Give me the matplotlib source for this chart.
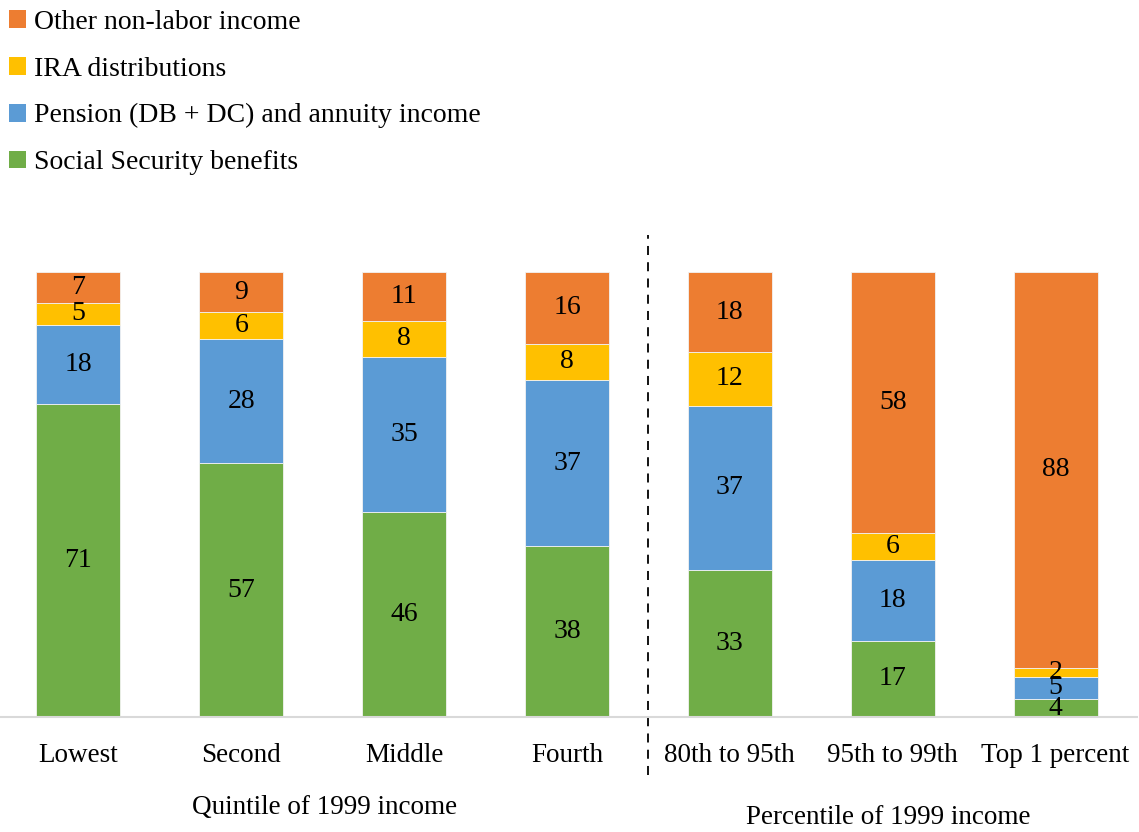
import numpy as np
import matplotlib
matplotlib.use("Agg")
import matplotlib.pyplot as plt
from matplotlib.patches import Patch

plt.rcParams['font.family'] = ['Liberation Serif', 'DejaVu Serif']

categories = ['Lowest', 'Second', 'Middle', 'Fourth',
              '80th to 95th', '95th to 99th', 'Top 1 percent']
social_security = [71, 57, 46, 38, 33, 17, 4]
pension = [18, 28, 35, 37, 37, 18, 5]
ira = [5, 6, 8, 8, 12, 6, 2]
other = [7, 9, 11, 16, 18, 58, 88]

series = [
    ('Social Security benefits', social_security, '#70AD47'),
    ('Pension (DB + DC) and annuity income', pension, '#5B9BD5'),
    ('IRA distributions', ira, '#FFC000'),
    ('Other non-labor income', other, '#ED7D31'),
]

group_labels = ['Quintile of 1999 income', 'Percentile of 1999 income']

W, H = 1139, 832
fig = plt.figure(figsize=(W / 100, H / 100), dpi=100)
ax = fig.add_axes([-3 / W, (H - 717) / H, 1140 / W, 445 / H])

x = np.arange(len(categories))
totals = np.sum([s[1] for s in series], axis=0)
bottom = np.zeros(len(categories))
for name, vals, color in series:
    share = np.array(vals) / totals * 100
    ax.bar(x, share, 0.515, bottom=bottom, color=color,
           edgecolor='#F2F2F2', linewidth=0.6, label=name)
    for xi, b, h, v in zip(x, bottom, share, vals):
        ax.text(xi, b + h / 2, str(v), ha='center', va='center',
                fontsize=20, color='black')
    bottom += share

ax.set_xlim(-0.5, 6.5)
ax.set_ylim(0, 100)
ax.set_yticks([])
ax.set_xticks(x)
ax.set_xticklabels(categories, fontsize=19.5)
ax.tick_params(axis='x', length=0, pad=19)
for s in ['top', 'right', 'left']:
    ax.spines[s].set_visible(False)
ax.spines['bottom'].set_color('#D9D9D9')
ax.spines['bottom'].set_linewidth(1.5)

# separator between quintiles and percentiles
ax.axvline(3.5, ymin=(717 - 775) / 445, ymax=(717 - 235) / 445,
           color='black', linestyle=(0, (5, 4)), linewidth=1.3, clip_on=False)

fig.text(325 / W, 1 - 808 / H, group_labels[0], ha='center', va='center', fontsize=19.5)
fig.text(888 / W, 1 - 818 / H, group_labels[1], ha='center', va='center', fontsize=19.5)

handles = [Patch(facecolor=c, edgecolor='none', label=n) for n, v, c in series[::-1]]
fig.legend(handles=handles, loc='upper left', bbox_to_anchor=(0.001, 0.998),
           frameon=False, fontsize=20, handlelength=0.6, handleheight=0.6,
           handletextpad=0.3, labelspacing=0.78, borderaxespad=0.0,
           borderpad=0.3)

fig.savefig('out.png', dpi=100)
